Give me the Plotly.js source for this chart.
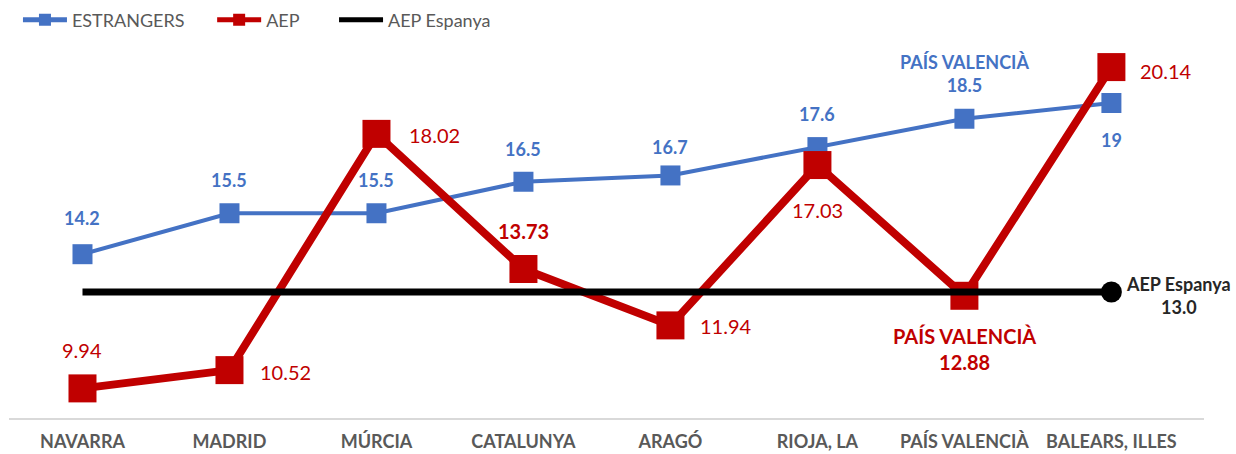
<!DOCTYPE html>
<html><head><meta charset="utf-8">
<script src="https://cdn.plot.ly/plotly-3.0.1.min.js"></script>
<style>html,body{margin:0;padding:0;background:#fff}#chart{width:1236px;height:454px}</style>
</head><body><div id="chart"></div>
<script>
const categories = ["NAVARRA","MADRID","MÚRCIA","CATALUNYA","ARAGÓ","RIOJA, LA","PAÍS VALENCIÀ","BALEARS, ILLES"];
const estrangers = [14.2, 15.5, 15.5, 16.5, 16.7, 17.6, 18.5, 19];
const aep = [9.94, 10.52, 18.02, 13.73, 11.94, 17.03, 12.88, 20.14];
const aepEspanya = 13.0;
const estrangersLabels = ["14.2","15.5","15.5","16.5","16.7","17.6","PAÍS VALENCIÀ<br>18.5","19"];
const aepLabels = ["9.94","10.52","18.02","<b>13.73</b>","11.94","17.03","<b>PAÍS VALENCIÀ<br>12.88</b>","20.14"];

const BLUE = "#4472C4", RED = "#C00000", FONT = "Lato, 'Open Sans', sans-serif";
const espY = categories.map(() => aepEspanya);

const traces = [
  {x: categories, y: estrangers, name: "ESTRANGERS", mode: "lines+markers", legend: "legend",
   line: {color: BLUE, width: 4}, marker: {symbol: "square", size: 20, color: BLUE}},
  {x: categories, y: aep, name: "AEP", mode: "lines+markers", legend: "legend2",
   line: {color: RED, width: 8}, marker: {symbol: "square", size: 28, color: RED}},
  {x: categories, y: espY, name: "AEP Espanya", mode: "lines", legend: "legend3",
   line: {color: "#000", width: 7}},
  {x: [categories[categories.length-1]], y: [aepEspanya], mode: "markers", showlegend: false,
   marker: {color: "#000", size: 21}, hoverinfo: "skip"}
];

const ann = [];
const bluePos = [[0,36],[0,33],[0,33],[0,33],[0,28],[0,33],[0,45],[0,-37]];
estrangers.forEach((v,i) => {
  ann.push({x: categories[i], y: v, text: "<b>"+estrangersLabels[i]+"</b>", showarrow: false,
    xshift: bluePos[i][0], yshift: bluePos[i][1], font: {color: BLUE, size: 18, family: FONT}});
});
const redPos = [[0,38],[56,-2],[58,-1],[0,38],[56,-1],[0,-45],[0,-53],[55,-4]];
aep.forEach((v,i) => {
  ann.push({x: categories[i], y: v, text: aepLabels[i], showarrow: false,
    xshift: redPos[i][0], yshift: redPos[i][1], font: {color: RED, size: 20, family: FONT}});
});
ann.push({x: categories[categories.length-1], y: aepEspanya, text: "<b>AEP Espanya<br>13.0</b>",
  showarrow: false, xanchor: "center", xshift: 67, yshift: -3, font: {color: "#262626", size: 18, family: FONT}});

const legBase = {orientation: "h", y: 1.053, xanchor: "left", yanchor: "middle",
  font: {family: FONT, size: 18, color: "#595959"}, itemsizing: "constant", itemwidth: 44, bgcolor: "rgba(0,0,0,0)"};

const layout = {
  width: 1236, height: 454,
  margin: {l: 9, r: 32, t: 40, b: 36, autoexpand: false},
  paper_bgcolor: "#fff", plot_bgcolor: "#fff",
  showlegend: true,
  legend: Object.assign({}, legBase, {x: 0.0075}),
  legend2: Object.assign({}, legBase, {x: 0.170}),
  legend3: Object.assign({}, legBase, {x: 0.272}),
  xaxis: {type: "category", range: [-0.5, 7.63], showgrid: false, zeroline: false,
    showline: true, linecolor: "#D9D9D9", linewidth: 2, ticks: "",
    tickfont: {family: FONT, size: 18, color: "#595959", weight: "bold"}, ticklabelstandoff: 6},
  yaxis: {range: [9, 21], visible: false, showgrid: false, zeroline: false},
  annotations: ann,
  font: {family: FONT}
};
Plotly.newPlot("chart", traces, layout, {staticPlot: true});
</script></body></html>
